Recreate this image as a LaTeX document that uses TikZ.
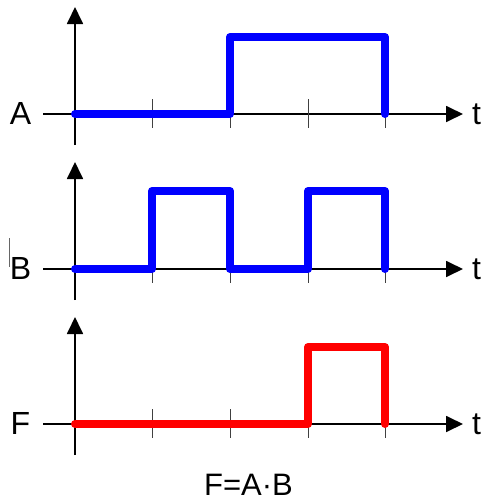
\documentclass[tikz,border=0pt]{standalone}
\usepackage{fontspec}
\setmainfont{Liberation Sans}
\usetikzlibrary{arrows.meta}
\begin{document}
\begin{tikzpicture}[x=1pt,y=-1pt,
  axis/.style={line width=1.8pt,-{Triangle[width=16pt,length=17pt]}},
  tickmark/.style={line width=1pt,black!75},
  sigblue/.style={line width=8pt,blue,line cap=round,line join=round},
  sigred/.style={line width=8pt,red,line cap=round,line join=round},
  lbl/.style={anchor=base,font=\fontsize{32}{36}\selectfont,inner sep=0pt}]
\useasboundingbox (0,0) rectangle (483,501);
\foreach \b/\name in {114/A,269/B,424/F}{
  \draw[line width=1.8pt] (43,\b) -- (75,\b);
  \draw[axis] (75,\b) -- (463,\b);
  \draw[axis] (75,\b+31) -- (75,\b-107);
  \foreach \x in {152,230,308,385}{
    \draw[tickmark] (\x,\b-15) -- (\x,\b+14);
  }
  \node[lbl] at (20.5,\b+10) {\name};
  \node[lbl,anchor=base west] at (472,\b+10) {t};
}
% A
\draw[sigblue] (75,114) -- (230,114) -- (230,37) -- (385,37) -- (385,114);
% B
\draw[sigblue] (75,269) -- (152,269) -- (152,191) -- (230,191) -- (230,269) -- (308,269) -- (308,191) -- (385,191) -- (385,269);
% F
\draw[sigred] (75,424) -- (308,424) -- (308,347) -- (385,347) -- (385,424);
% stray mark
\draw[line width=1pt,black!60] (9,238) -- (9,267);
\node[anchor=base,font=\fontsize{31}{36}\selectfont,inner sep=0pt] (eq) at (248.5,495) {F=A·B};
\end{tikzpicture}
\end{document}
